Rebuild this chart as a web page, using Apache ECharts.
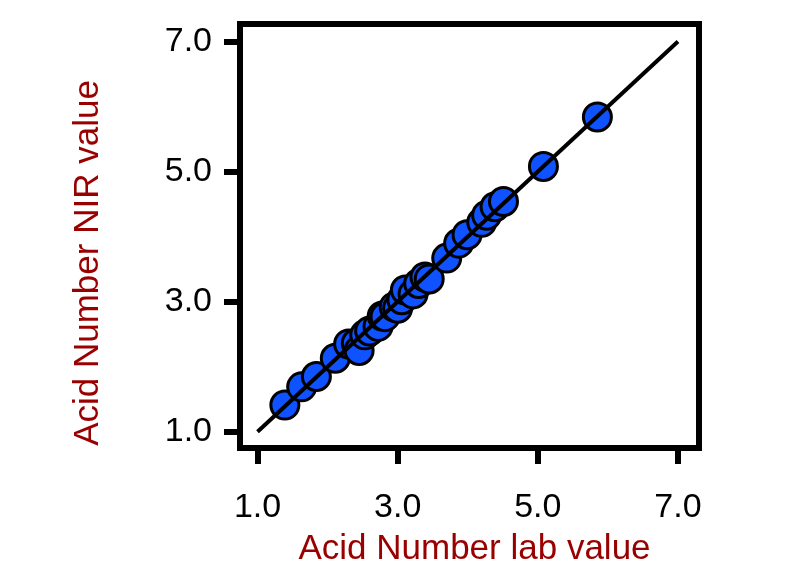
<!DOCTYPE html>
<html>
<head>
<meta charset="utf-8">
<script src="https://cdn.jsdelivr.net/npm/echarts@6/dist/echarts.min.js"></script>
<style>
  html, body { margin: 0; padding: 0; background: #fff; }
  #chart { width: 800px; height: 565px; }
</style>
</head>
<body>
<div id="chart"></div>
<script>
// lab value vs NIR value
const labValues = [1.39, 1.63, 1.84, 2.11, 2.30, 2.41, 2.45, 2.53, 2.60, 2.72, 2.78, 2.82, 2.95, 3.00, 3.06, 3.11, 3.22, 3.30, 3.39, 3.45, 3.70, 3.87, 3.99, 4.20, 4.27, 4.39, 4.51, 5.08, 5.85];
const nirValues = [1.41, 1.69, 1.85, 2.13, 2.35, 2.36, 2.25, 2.49, 2.55, 2.62, 2.78, 2.77, 2.92, 2.90, 3.03, 3.18, 3.12, 3.28, 3.38, 3.35, 3.67, 3.90, 4.03, 4.22, 4.33, 4.46, 4.54, 5.08, 5.84];
const fitLine = [[1.0, 1.0], [7.0, 7.0]];
const tickValues = [1, 3, 5, 7];

const points = labValues.map((v, i) => [v, nirValues[i]]);

const myChart = echarts.init(document.getElementById('chart'));
const font = 'Liberation Sans, Arial, sans-serif';

function axis(name, nameGap, namePadding, labelMargin, min, max) {
    return {
        type: 'value',
        min: min,
        max: max,
        name: name,
        nameLocation: 'middle',
        nameGap: nameGap,
        nameTextStyle: { color: '#990000', fontSize: 35, fontFamily: font, padding: namePadding },
        axisLine: { show: false },
        splitLine: { show: false },
        axisTick: {
            show: true,
            inside: false,
            length: 16,
            customValues: tickValues,
            lineStyle: { color: '#000', width: 6 }
        },
        axisLabel: {
            show: true,
            margin: labelMargin,
            customValues: tickValues,
            formatter: v => v.toFixed(1),
            color: '#000',
            fontSize: 34,
            fontFamily: font
        }
    };
}

myChart.setOption({
    animation: false,
    grid: {
        left: 240, right: 101, top: 24, bottom: 117,
        outerBoundsMode: 'none',
        containLabel: false,
        show: true,
        borderColor: '#000',
        borderWidth: 6,
        backgroundColor: 'transparent'
    },
    xAxis: axis('Acid Number lab value', 84, [0, 0, 0, 10], 43, 0.75, 7.3),
    yAxis: axis('Acid Number NIR value', 134, [0, 54, 0, 0], 28, 0.75, 7.27),
    series: [{
        type: 'scatter',
        data: points,
        symbolSize: 28,
        itemStyle: { color: '#0f52ff', borderColor: '#000', borderWidth: 3, opacity: 1 },
        z: 2
    }, {
        type: 'line',
        data: fitLine,
        symbol: 'none',
        lineStyle: { color: '#000', width: 4 },
        z: 3
    }]
});
</script>
</body>
</html>
